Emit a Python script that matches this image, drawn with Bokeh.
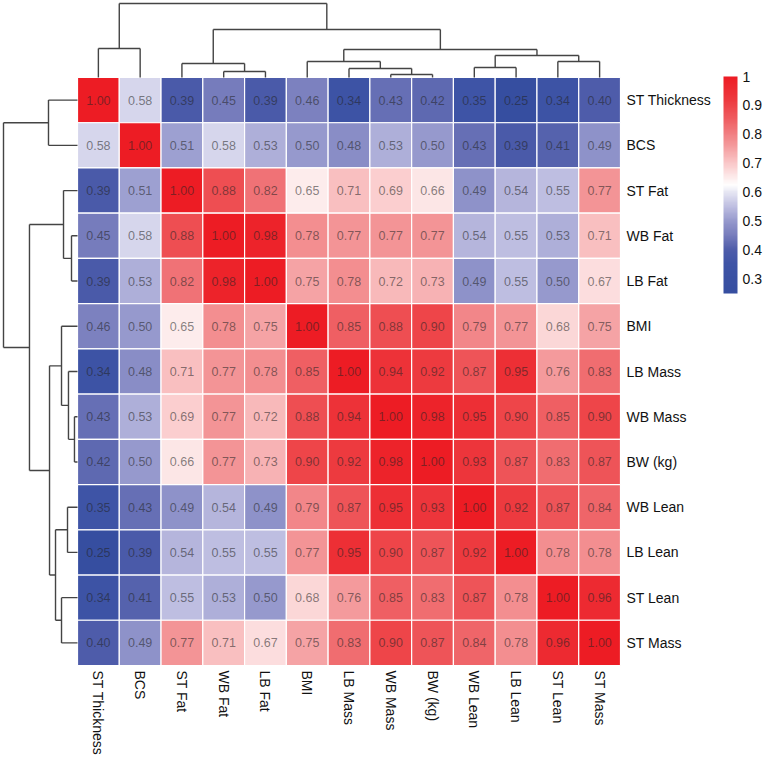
import numpy as np
from bokeh.plotting import figure
from bokeh.models import (ColumnDataSource, Range1d, LinearColorMapper, ColorBar,
                          FixedTicker, CustomJSTickFormatter)
from bokeh.transform import transform
from bokeh.core.properties import value
from bokeh.embed import file_html
from bokeh.resources import INLINE

# Variables in clustered order (rows and columns share the same order)
labels = ["ST Thickness", "BCS", "ST Fat", "WB Fat", "LB Fat", "BMI", "LB Mass",
          "WB Mass", "BW (kg)", "WB Lean", "LB Lean", "ST Lean", "ST Mass"]

# Pearson correlation matrix
corr = [
    [1.00, 0.58, 0.39, 0.45, 0.39, 0.46, 0.34, 0.43, 0.42, 0.35, 0.25, 0.34, 0.40],
    [0.58, 1.00, 0.51, 0.58, 0.53, 0.50, 0.48, 0.53, 0.50, 0.43, 0.39, 0.41, 0.49],
    [0.39, 0.51, 1.00, 0.88, 0.82, 0.65, 0.71, 0.69, 0.66, 0.49, 0.54, 0.55, 0.77],
    [0.45, 0.58, 0.88, 1.00, 0.98, 0.78, 0.77, 0.77, 0.77, 0.54, 0.55, 0.53, 0.71],
    [0.39, 0.53, 0.82, 0.98, 1.00, 0.75, 0.78, 0.72, 0.73, 0.49, 0.55, 0.50, 0.67],
    [0.46, 0.50, 0.65, 0.78, 0.75, 1.00, 0.85, 0.88, 0.90, 0.79, 0.77, 0.68, 0.75],
    [0.34, 0.48, 0.71, 0.77, 0.78, 0.85, 1.00, 0.94, 0.92, 0.87, 0.95, 0.76, 0.83],
    [0.43, 0.53, 0.69, 0.77, 0.72, 0.88, 0.94, 1.00, 0.98, 0.95, 0.90, 0.85, 0.90],
    [0.42, 0.50, 0.66, 0.77, 0.73, 0.90, 0.92, 0.98, 1.00, 0.93, 0.87, 0.83, 0.87],
    [0.35, 0.43, 0.49, 0.54, 0.49, 0.79, 0.87, 0.95, 0.93, 1.00, 0.92, 0.87, 0.84],
    [0.25, 0.39, 0.54, 0.55, 0.55, 0.77, 0.95, 0.90, 0.87, 0.92, 1.00, 0.78, 0.78],
    [0.34, 0.41, 0.55, 0.53, 0.50, 0.68, 0.76, 0.85, 0.83, 0.87, 0.78, 1.00, 0.96],
    [0.40, 0.49, 0.77, 0.71, 0.67, 0.75, 0.83, 0.90, 0.87, 0.84, 0.78, 0.96, 1.00],
]

# Hierarchical clustering: (left child, right child, merge height), hclust style.
# Leaves are 0..12 in display order; merge k creates node 13 + k.
merge_left = [7, 3, 6, 9, 2, 11, 5, 16, 19, 0, 17, 22]
merge_right = [8, 4, 13, 10, 14, 12, 15, 18, 20, 1, 21, 23]
merge_height = [0.041, 0.081, 0.122, 0.135, 0.189, 0.216, 0.216, 0.297, 0.378, 0.392, 0.649, 1.0]

# Colour scale
scale_low, scale_high = 0.25, 1.0
cbar_ticks = [0.3, 0.4, 0.5, 0.6, 0.7, 0.8, 0.9, 1.0]
ramp_pos = [0.25, 0.35, 0.40, 0.45, 0.50, 0.55, 0.60, 0.625, 0.65, 0.70, 0.77, 0.85, 0.92, 1.00]
ramp_rgb = [(54, 78, 160), (62, 84, 166), (78, 92, 170), (118, 124, 188), (150, 153, 205),
            (190, 190, 225), (230, 230, 243), (255, 255, 255), (253, 236, 236),
            (250, 200, 201), (243, 148, 150), (239, 95, 99), (237, 58, 63), (237, 28, 36)]

# ---- layout (pixels) ----
W, H = 764, 758
HEAT_LEFT, HEAT_TOP = 77, 77
CELL_W, CELL_H = 543 / 13, 588 / 13
DEND_PX = 74

n = len(labels)

# Build a 256-step palette from the ramp stops
grid = np.linspace(scale_low, scale_high, 256)
rgb = np.array(ramp_rgb, dtype=float)
chan = [np.interp(grid, ramp_pos, rgb[:, c]) for c in range(3)]
palette = ["#%02x%02x%02x" % (int(round(r)), int(round(g)), int(round(b)))
           for r, g, b in zip(*chan)]
mapper = LinearColorMapper(palette=palette, low=scale_low, high=scale_high)

p = figure(width=W, height=H, output_backend="svg", toolbar_location=None,
           x_range=Range1d(-HEAT_LEFT / CELL_W, (W - HEAT_LEFT) / CELL_W),
           y_range=Range1d((H - HEAT_TOP) / CELL_H, -HEAT_TOP / CELL_H),
           min_border=0)
p.axis.visible = False
p.grid.visible = False
p.outline_line_color = None
p.background_fill_color = "white"

# Heatmap cells
xs, ys, vals, txt = [], [], [], []
for i in range(n):
    for j in range(n):
        xs.append(j + 0.5)
        ys.append(i + 0.5)
        vals.append(corr[i][j])
        txt.append(f"{corr[i][j]:.2f}")
src = ColumnDataSource(dict(x=xs, y=ys, v=vals, t=txt))
p.rect(x="x", y="y", width=1, height=1, source=src,
       fill_color=transform("v", mapper), line_color="white", line_width=1.2)
p.text(x="x", y="y", text="t", source=src, text_align="center", text_baseline="middle",
       text_font=value("Liberation Sans"), text_font_size="12.5px",
       text_color="#222222", text_alpha=0.55)

# Row labels on the right, column labels below (rotated)
idx = np.arange(n)
p.text(x=[n + 6 / CELL_W] * n, y=list(idx + 0.5), text=labels,
       text_align="left", text_baseline="middle",
       text_font=value("Liberation Sans"), text_font_size="14px", text_color="#111111")
p.text(x=list(idx + 0.5), y=[n + 5 / CELL_H] * n, text=labels, angle=-np.pi / 2,
       text_align="left", text_baseline="middle",
       text_font=value("Liberation Sans"), text_font_size="14px", text_color="#111111")

# Dendrogram segments (position along leaves, height)
pos = {k: k + 0.5 for k in range(n)}
hgt = {k: 0.0 for k in range(n)}
seg = []
for k, (a, b, h) in enumerate(zip(merge_left, merge_right, merge_height)):
    node = n + k
    seg.append((pos[a], hgt[a], pos[a], h))
    seg.append((pos[b], hgt[b], pos[b], h))
    seg.append((pos[a], h, pos[b], h))
    pos[node] = (pos[a] + pos[b]) / 2
    hgt[node] = h
seg = np.array(seg)
hmax = max(merge_height)
top_scale = DEND_PX / CELL_H / hmax
left_scale = DEND_PX / CELL_W / hmax

# top dendrogram (columns)
p.segment(x0=seg[:, 0], y0=-seg[:, 1] * top_scale, x1=seg[:, 2], y1=-seg[:, 3] * top_scale,
          line_color="#444444", line_width=1.4)
# left dendrogram (rows)
p.segment(x0=-seg[:, 1] * left_scale, y0=seg[:, 0], x1=-seg[:, 3] * left_scale, y1=seg[:, 2],
          line_color="#444444", line_width=1.4)

# Colour bar
cb = ColorBar(color_mapper=mapper, ticker=FixedTicker(ticks=cbar_ticks),
              formatter=CustomJSTickFormatter(code="return tick > 0.999 ? '1' : tick.toFixed(1);"),
              width=14, height=217, location=(723, H - 293), padding=0,
              label_standoff=5, major_tick_line_color=None, bar_line_color=None,
              border_line_color=None, background_fill_alpha=0,
              major_label_text_font=("Liberation Sans"), major_label_text_font_size="14px",
              major_label_text_color="#111111")
p.add_layout(cb)

open("out.html", "w").write(file_html(p, INLINE))
